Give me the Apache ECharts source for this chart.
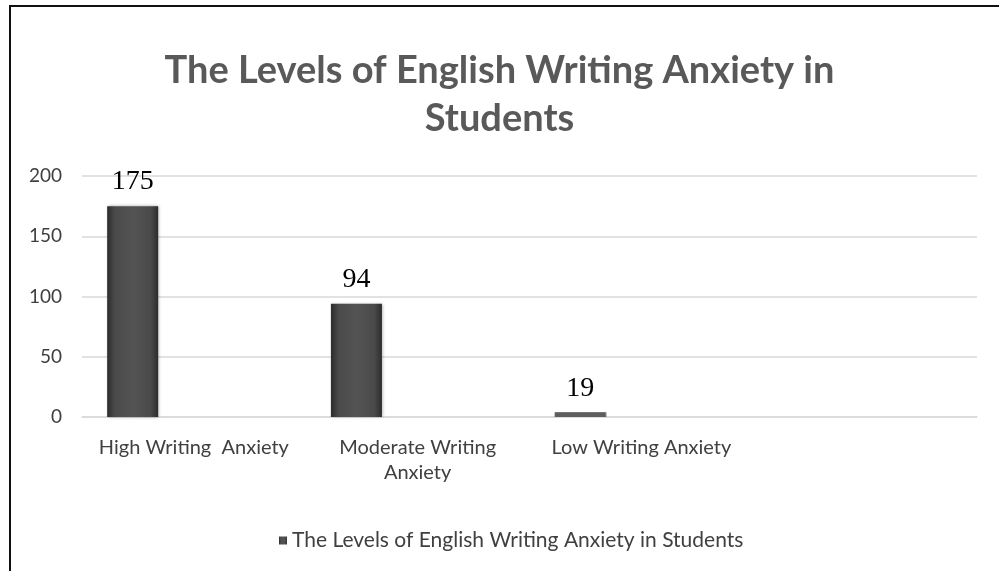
<!DOCTYPE html>
<html>
<head>
<meta charset="utf-8">
<script src="https://cdn.jsdelivr.net/npm/echarts@6/dist/echarts.min.js"></script>
<style>
  html, body { margin: 0; padding: 0; background: #fff; }
  #wrap { position: relative; width: 999px; height: 571px; }
  #chart { position: absolute; left: 0; top: 0; width: 999px; height: 571px; }
  #frame { position: absolute; left: 9px; top: 5px; width: 990px; height: 566px;
           border-left: 2px solid #111; border-top: 2px solid #111; box-sizing: border-box; pointer-events: none; }
</style>
</head>
<body>
<div id="wrap">
  <div id="chart"></div>
  <div id="frame"></div>
</div>
<script>
const titleText = 'The Levels of English Writing Anxiety in\nStudents';
const seriesName = 'The Levels of English Writing Anxiety in Students';
const categories = ['High Writing  Anxiety', 'Moderate Writing\nAnxiety', 'Low Writing Anxiety', ''];
const barValues = [175, 94, 4];
const valueLabels = ['175', '94', '19'];
const yMin = 0;
const yMax = 200;
const yInterval = 50;

const chart = echarts.init(document.getElementById('chart'), null, { renderer: 'canvas' });

const barStyle = {
  color: new echarts.graphic.LinearGradient(0, 0, 1, 0, [
    { offset: 0, color: '#2c2c2c' },
    { offset: 0.15, color: '#4a4a4a' },
    { offset: 0.5, color: '#545454' },
    { offset: 0.85, color: '#4a4a4a' },
    { offset: 1, color: '#2c2c2c' }
  ]),
  shadowBlur: 3,
  shadowColor: 'rgba(0,0,0,0.35)',
  shadowOffsetX: 1,
  shadowOffsetY: 0
};

chart.setOption({
  animation: false,
  backgroundColor: '#ffffff',
  title: {
    text: titleText,
    left: 'center',
    top: 42,
    textStyle: {
      fontFamily: 'Lato',
      fontWeight: 'bold',
      fontSize: 38,
      lineHeight: 48,
      color: '#595959'
    }
  },
  legend: {
    data: [seriesName],
    left: 274,
    top: 525,
    itemWidth: 8,
    itemHeight: 8,
    itemGap: 4,
    icon: 'rect',
    textStyle: { fontFamily: 'Lato', fontSize: 21, color: '#404040' }
  },
  grid: { left: 82, right: 22, top: 176, bottom: 154, containLabel: false },
  xAxis: {
    type: 'category',
    data: categories,
    boundaryGap: true,
    axisLine: { show: true, lineStyle: { color: '#d9d9d9', width: 1.5 } },
    axisTick: { show: false },
    axisLabel: {
      interval: 0,
      margin: 18,
      fontFamily: 'Lato',
      fontSize: 20,
      lineHeight: 25,
      color: '#404040'
    }
  },
  yAxis: {
    type: 'value',
    min: yMin,
    max: yMax,
    interval: yInterval,
    axisLine: { show: false },
    axisTick: { show: false },
    splitLine: { lineStyle: { color: '#d9d9d9', width: 1.5 } },
    axisLabel: { margin: 20, fontFamily: 'Lato', fontSize: 19, color: '#404040' }
  },
  series: [
    {
      name: seriesName,
      type: 'bar',
      data: barValues.map((v, i) => i === 2 ? { value: v, itemStyle: { color: '#5e5e5e', shadowBlur: 0 } } : v),
      barWidth: 51,
      barGap: '20%',
      itemStyle: barStyle,
      label: {
        show: true,
        position: 'top',
        distance: 10,
        formatter: p => valueLabels[p.dataIndex],
        fontFamily: 'Liberation Serif',
        fontSize: 28,
        color: '#000'
      }
    },
    { name: 'pad1', type: 'bar', data: [null, null, null, null], barWidth: 51, barGap: '20%', silent: true },
    { name: 'pad2', type: 'bar', data: [null, null, null, null], barWidth: 51, barGap: '20%', silent: true }
  ]
});
</script>
</body>
</html>
